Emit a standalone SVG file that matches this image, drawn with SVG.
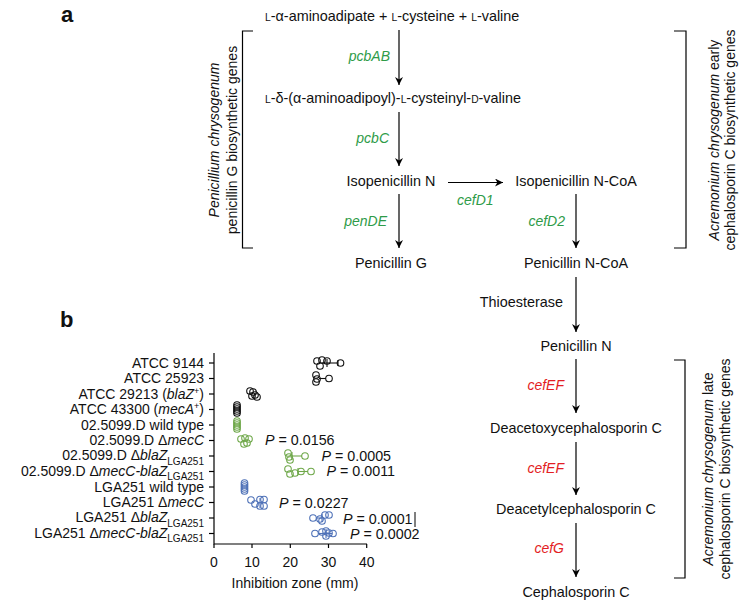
<svg xmlns="http://www.w3.org/2000/svg" width="754" height="611" viewBox="0 0 754 611">
<defs>
<marker id="ah" viewBox="0 0 10 10" refX="10" refY="5" markerWidth="8" markerHeight="8" orient="auto" markerUnits="userSpaceOnUse">
<path d="M0,0 L10,5 L0,10 L3,5 z" fill="#000"/>
</marker>
<style>
text{font-family:"Liberation Sans",Arial,sans-serif;font-size:14px;fill:#111}
.pw{font-size:14.4px}
.sc{font-size:10.3px}
.g{fill:#2e9b48;font-style:italic}
.r{fill:#e31e24;font-style:italic}
.i{font-style:italic}
.pv{font-size:14.3px}
.lab{font-weight:bold;font-size:22px}
.sub{font-size:10px}
.arr{stroke:#000;stroke-width:1.2;fill:none;marker-end:url(#ah)}
.br{stroke:#000;stroke-width:1.2;fill:none}
.ax{stroke:#000;stroke-width:1.2;fill:none}
.k circle{fill:none;stroke:#111;stroke-width:1.1}
.gr circle{fill:none;stroke:#6fa84a;stroke-width:1.1}
.bl circle{fill:none;stroke:#4f72b8;stroke-width:1.1}
.k line{stroke:#111;stroke-width:1.1}
.gr line{stroke:#6fa84a;stroke-width:1.1}
.bl line{stroke:#4f72b8;stroke-width:1.1}
</style>
</defs>
<rect width="754" height="611" fill="#fff"/>

<text class="lab" x="61" y="22">a</text>
<text class="lab" x="60" y="327">b</text>

<!-- nodes of pathway -->
<g id="n-start"><text class="pw" x="265" y="21"><tspan class="sc">L</tspan>-α-aminoadipate + <tspan class="sc">L</tspan>-cysteine + <tspan class="sc">L</tspan>-valine</text></g>
<g id="n-acv"><text class="pw" x="265" y="103"><tspan class="sc">L</tspan>-δ-(α-aminoadipoyl)-<tspan class="sc">L</tspan>-cysteinyl-<tspan class="sc">D</tspan>-valine</text></g>
<g id="n-ipn"><text class="pw" x="391" y="186" text-anchor="middle">Isopenicillin N</text></g>
<g id="n-ipncoa"><text class="pw" x="576" y="186" text-anchor="middle">Isopenicillin N-CoA</text></g>
<g id="n-peng"><text class="pw" x="391" y="268" text-anchor="middle">Penicillin G</text></g>
<g id="n-pnncoa"><text class="pw" x="576" y="268" text-anchor="middle">Penicillin N-CoA</text></g>
<g id="n-pnn"><text class="pw" x="576" y="351" text-anchor="middle">Penicillin N</text></g>
<g id="n-daoc"><text class="pw" x="576" y="433" text-anchor="middle">Deacetoxycephalosporin C</text></g>
<g id="n-dac"><text class="pw" x="576" y="514" text-anchor="middle">Deacetylcephalosporin C</text></g>
<g id="n-cpc"><text class="pw" x="576" y="597" text-anchor="middle">Cephalosporin C</text></g>

<!-- connectors -->
<g id="connectors">
<line class="arr" x1="399" y1="30" x2="399" y2="85"/>
<line class="arr" x1="399" y1="112" x2="399" y2="166"/>
<line class="arr" x1="399" y1="194" x2="399" y2="248"/>
<line class="arr" x1="448" y1="182.5" x2="503" y2="182.5"/>
<line class="arr" x1="576" y1="194" x2="576" y2="248"/>
<line class="arr" x1="576" y1="277" x2="576" y2="332"/>
<line class="arr" x1="576" y1="359" x2="576" y2="413"/>
<line class="arr" x1="576" y1="442" x2="576" y2="495"/>
<line class="arr" x1="576" y1="523" x2="576" y2="577"/>
<text class="g" x="390" y="61" text-anchor="end">pcbAB</text>
<text class="g" x="389" y="143" text-anchor="end">pcbC</text>
<text class="g" x="387" y="226" text-anchor="end">penDE</text>
<text class="g" x="457" y="205">cefD1</text>
<text class="g" x="565" y="226" text-anchor="end">cefD2</text>
<text class="pw" x="563" y="307" text-anchor="end">Thioesterase</text>
<text class="r" x="564" y="390" text-anchor="end">cefEF</text>
<text class="r" x="564" y="473" text-anchor="end">cefEF</text>
<text class="r" x="564" y="553" text-anchor="end">cefG</text>
</g>

<!-- brackets -->
<g id="bracket-pen">
<polyline class="br" points="253,31 242.5,31 242.5,248 253,248"/>
<text transform="translate(219,140) rotate(-90)" text-anchor="middle" class="i">Penicillium chrysogenum</text>
<text transform="translate(236.5,140) rotate(-90)" text-anchor="middle">penicillin G biosynthetic genes</text>
</g>
<g id="bracket-early">
<polyline class="br" points="674,31 686,31 686,248 674,248"/>
<text transform="translate(719,140) rotate(-90)" text-anchor="middle"><tspan class="i">Acremonium chrysogenum</tspan> early</text>
<text transform="translate(735,140) rotate(-90)" text-anchor="middle">cephalosporin C biosynthetic genes</text>
</g>
<g id="bracket-late">
<polyline class="br" points="674,360 685,360 685,578 674,578"/>
<text transform="translate(713,469) rotate(-90)" text-anchor="middle"><tspan class="i">Acremonium chrysogenum</tspan> late</text>
<text transform="translate(729.5,469) rotate(-90)" text-anchor="middle">cephalosporin C biosynthetic genes</text>
</g>

<!-- panel b plot -->
<g id="plot-axes">
<polyline class="ax" points="214,353 214,544 367,544"/>
<line class="ax" x1="214" y1="544" x2="214" y2="548"/>
<line class="ax" x1="252" y1="544" x2="252" y2="548"/>
<line class="ax" x1="290.3" y1="544" x2="290.3" y2="548"/>
<line class="ax" x1="328.5" y1="544" x2="328.5" y2="548"/>
<line class="ax" x1="366.7" y1="544" x2="366.7" y2="548"/>
<text x="214" y="567" text-anchor="middle">0</text>
<text x="252" y="567" text-anchor="middle">10</text>
<text x="290.3" y="567" text-anchor="middle">20</text>
<text x="328.5" y="567" text-anchor="middle">30</text>
<text x="366.7" y="567" text-anchor="middle">40</text>
<text x="295" y="588" text-anchor="middle">Inhibition zone (mm)</text>
<g stroke="#000" stroke-width="1.2">
<line x1="209" y1="363" x2="214" y2="363"/>
<line x1="209" y1="378.5" x2="214" y2="378.5"/>
<line x1="209" y1="394" x2="214" y2="394"/>
<line x1="209" y1="409.5" x2="214" y2="409.5"/>
<line x1="209" y1="425" x2="214" y2="425"/>
<line x1="209" y1="440.5" x2="214" y2="440.5"/>
<line x1="209" y1="456" x2="214" y2="456"/>
<line x1="209" y1="471.5" x2="214" y2="471.5"/>
<line x1="209" y1="487" x2="214" y2="487"/>
<line x1="209" y1="502.5" x2="214" y2="502.5"/>
<line x1="209" y1="518" x2="214" y2="518"/>
<line x1="209" y1="533.5" x2="214" y2="533.5"/>
</g>
</g>

<g id="plot-labels">
<text x="204" y="367.5" text-anchor="end">ATCC 9144</text>
<text x="204" y="383" text-anchor="end">ATCC 25923</text>
<text x="204" y="398.5" text-anchor="end">ATCC 29213 (<tspan class="i">blaZ</tspan><tspan font-size="9" dy="-5">+</tspan><tspan dy="5">)</tspan></text>
<text x="204" y="414" text-anchor="end">ATCC 43300 (<tspan class="i">mecA</tspan><tspan font-size="9" dy="-5">+</tspan><tspan dy="5">)</tspan></text>
<text x="204" y="429.5" text-anchor="end">02.5099.D wild type</text>
<text x="204" y="445" text-anchor="end">02.5099.D Δ<tspan class="i">mecC</tspan></text>
<text x="204" y="460" text-anchor="end">02.5099.D Δ<tspan class="i">blaZ</tspan><tspan class="sub" dy="4.5">LGA251</tspan></text>
<text x="204" y="475.5" text-anchor="end">02.5099.D Δ<tspan class="i">mecC-blaZ</tspan><tspan class="sub" dy="4.5">LGA251</tspan></text>
<text x="204" y="491.5" text-anchor="end">LGA251 wild type</text>
<text x="204" y="507" text-anchor="end">LGA251 Δ<tspan class="i">mecC</tspan></text>
<text x="204" y="522" text-anchor="end">LGA251 Δ<tspan class="i">blaZ</tspan><tspan class="sub" dy="4.5">LGA251</tspan></text>
<text x="204" y="537.5" text-anchor="end">LGA251 Δ<tspan class="i">mecC-blaZ</tspan><tspan class="sub" dy="4.5">LGA251</tspan></text>
</g>

<g id="plot-data">
<g class="k">
<line x1="322" y1="363" x2="338" y2="363"/><line x1="338" y1="360" x2="338" y2="366"/><line x1="327" y1="359" x2="327" y2="367"/>
<circle cx="317" cy="361" r="3.3"/><circle cx="322" cy="360" r="3.3"/><circle cx="327" cy="361" r="3.3"/><circle cx="320" cy="366" r="3.3"/><circle cx="340.5" cy="363" r="3.3"/>
<line x1="319" y1="378.5" x2="326" y2="378.5"/>
<circle cx="316" cy="375" r="3.3"/><circle cx="317" cy="379" r="3.3"/><circle cx="316" cy="382" r="3.3"/><circle cx="329" cy="378.5" r="3.3"/>
<circle cx="250" cy="391" r="3.3"/><circle cx="253" cy="392" r="3.3"/><circle cx="255" cy="395" r="3.3"/><circle cx="252" cy="396" r="3.3"/><circle cx="257" cy="397" r="3.3"/>
<circle cx="237" cy="405" r="3.3"/><circle cx="237" cy="407" r="3.3"/><circle cx="237" cy="409" r="3.3"/><circle cx="237" cy="411" r="3.3"/><circle cx="237" cy="413" r="3.3"/>
</g>
<g class="gr">
<circle cx="237" cy="421" r="3.3"/><circle cx="237" cy="423" r="3.3"/><circle cx="237" cy="425" r="3.3"/><circle cx="237" cy="427" r="3.3"/><circle cx="237" cy="429" r="3.3"/>
<circle cx="241" cy="439" r="3.3"/><circle cx="245" cy="438" r="3.3"/><circle cx="249" cy="439" r="3.3"/><circle cx="244" cy="444" r="3.3"/><circle cx="247" cy="443" r="3.3"/>
<line x1="291" y1="456" x2="302" y2="456"/><line x1="292" y1="452" x2="292" y2="460"/>
<circle cx="288" cy="453" r="3.3"/><circle cx="289" cy="457" r="3.3"/><circle cx="290" cy="460" r="3.3"/><circle cx="305" cy="456" r="3.3"/>
<line x1="297" y1="471.5" x2="308" y2="471.5"/><line x1="298" y1="468" x2="298" y2="475"/>
<circle cx="288" cy="469" r="3.3"/><circle cx="290" cy="474" r="3.3"/><circle cx="295" cy="473" r="3.3"/><circle cx="301" cy="471.5" r="3.3"/><circle cx="311" cy="471.5" r="3.3"/>
</g>
<g class="bl">
<circle cx="244.5" cy="483" r="3.3"/><circle cx="244.5" cy="485" r="3.3"/><circle cx="244.5" cy="487" r="3.3"/><circle cx="244.5" cy="489" r="3.3"/><circle cx="244.5" cy="491" r="3.3"/>
<line x1="260" y1="498" x2="260" y2="508"/>
<circle cx="251" cy="500" r="3.3"/><circle cx="255" cy="504" r="3.3"/><circle cx="260" cy="499.5" r="3.3"/><circle cx="264" cy="499.5" r="3.3"/><circle cx="260" cy="506" r="3.3"/><circle cx="264" cy="506" r="3.3"/>
<line x1="316" y1="518" x2="322" y2="518"/><line x1="322" y1="514" x2="322" y2="522"/>
<circle cx="313" cy="518" r="3.3"/><circle cx="320" cy="519" r="3.3"/><circle cx="322" cy="521" r="3.3"/><circle cx="325" cy="515" r="3.3"/><circle cx="329" cy="515" r="3.3"/>
<line x1="318" y1="533.5" x2="332" y2="533.5"/><line x1="326" y1="529" x2="326" y2="538"/>
<circle cx="315" cy="533.5" r="3.3"/><circle cx="322" cy="532" r="3.3"/><circle cx="326" cy="531" r="3.3"/><circle cx="326" cy="536" r="3.3"/><circle cx="329" cy="533" r="3.3"/><circle cx="333" cy="533.5" r="3.3"/>
</g>
<text class="pv" x="265" y="445"><tspan class="i">P</tspan> = 0.0156</text>
<text class="pv" x="321.5" y="460.5"><tspan class="i">P</tspan> = 0.0005</text>
<text class="pv" x="326.5" y="476"><tspan class="i">P</tspan> = 0.0011</text>
<text class="pv" x="279" y="508"><tspan class="i">P</tspan> = 0.0227</text>
<text class="pv" x="343" y="523.5"><tspan class="i">P</tspan> = 0.0001</text>
<line x1="415" y1="512" x2="415" y2="527" stroke="#000" stroke-width="1"/>
<text class="pv" x="350" y="538.5"><tspan class="i">P</tspan> = 0.0002</text>
</g>
</svg>
